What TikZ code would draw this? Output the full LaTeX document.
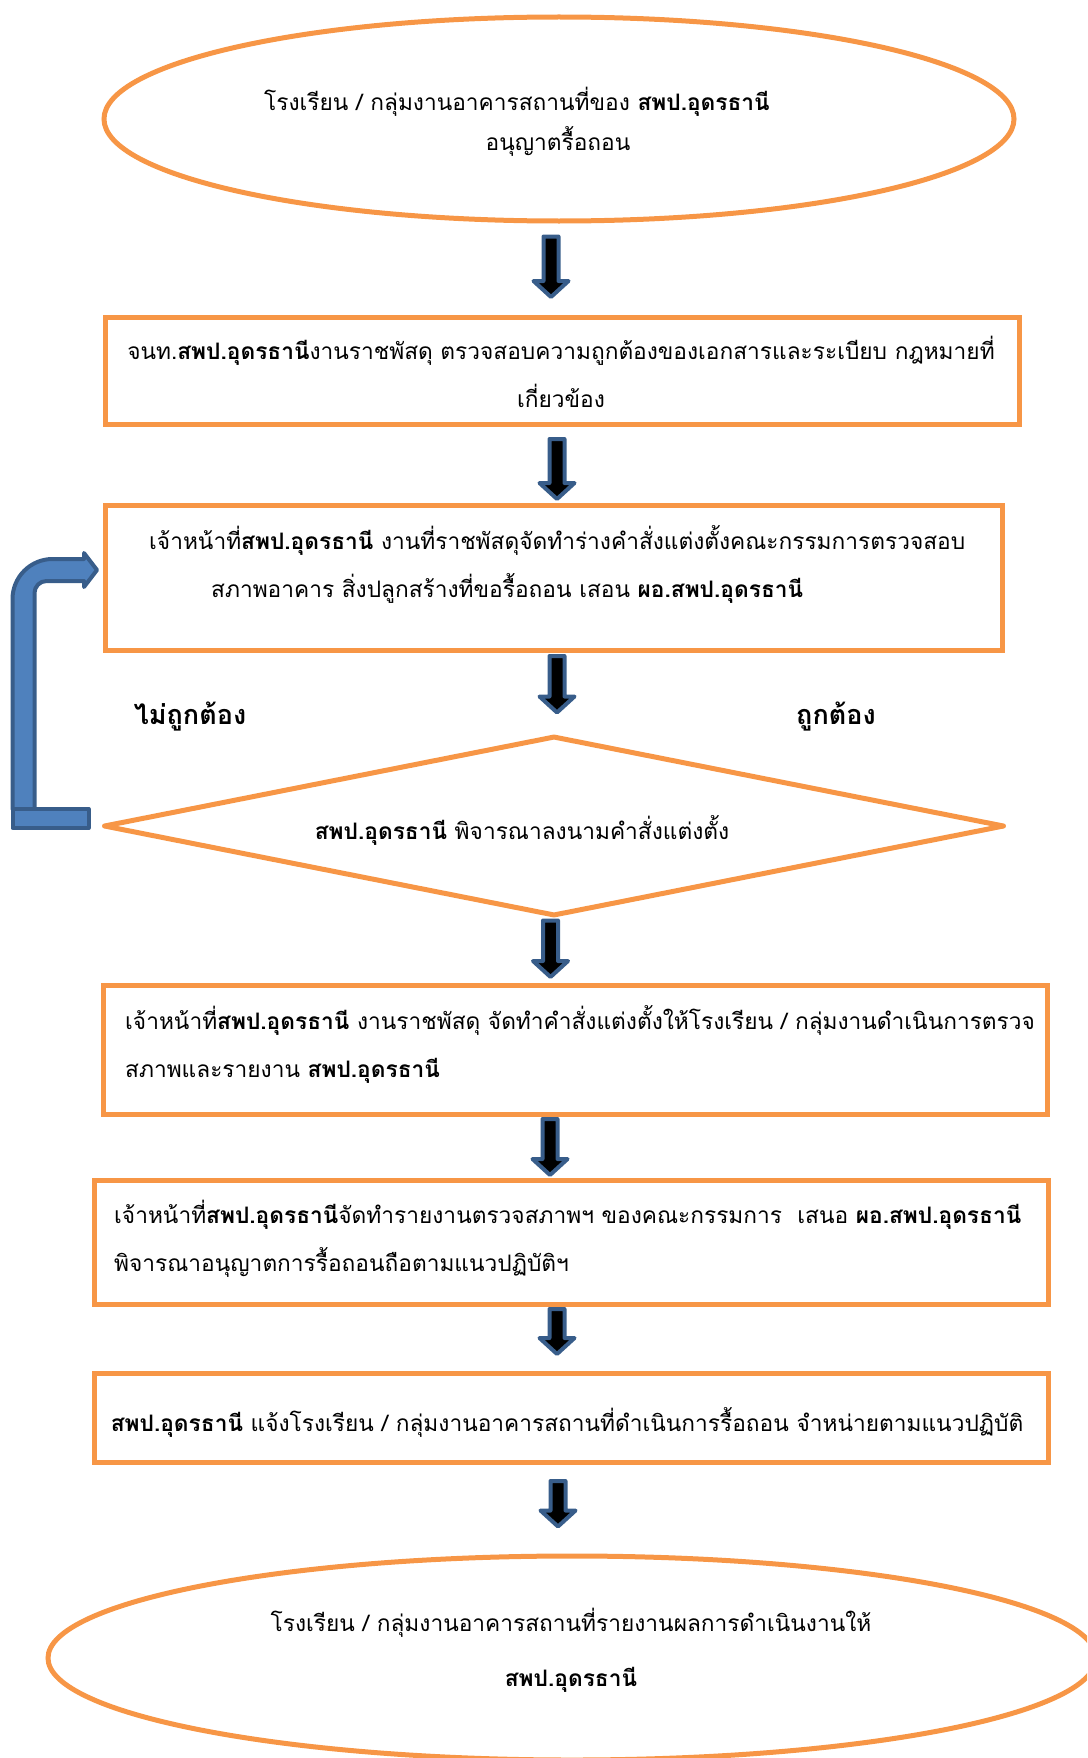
\documentclass[tikz,border=0pt]{standalone}
\usepackage{fontspec}
\setmainfont{Loma}[Script=Thai]
\usetikzlibrary{calc, shapes.geometric}

\definecolor{boxorange}{HTML}{F79646}
\definecolor{arrowblue}{HTML}{385D8A}
\definecolor{loopblue}{HTML}{4F81BD}

\newcommand{\sppud}{\textbf{สพป.อุดรธานี}}

\begin{document}
\begin{tikzpicture}[x=1pt, y=-1pt,
    stepbox/.style={draw=boxorange, line width=5pt, rectangle, inner sep=0pt},
    endoval/.style={draw=boxorange, line width=5pt, ellipse, inner sep=0pt},
    decide/.style={draw=boxorange, line width=5pt, diamond, inner sep=0pt, line join=round},
    txt/.style={font=\fontsize{22.7}{48}\selectfont, inner sep=0pt},
    answer/.style={font=\fontsize{27}{30}\selectfont\bfseries, inner sep=0pt},
    blockarrow/.style={draw=arrowblue, fill=black, line width=4pt, line join=round,
      to path={let \p1=(\tikztostart), \p2=(\tikztotarget) in
        ({\x1-7.5pt},\y1) -- ({\x1+7.5pt},\y1) -- ({\x1+7.5pt},{\y2+16pt})
        -- ({\x1+17.5pt},{\y2+16pt}) -- (\x1,\y2) -- ({\x1-17.5pt},{\y2+16pt})
        -- ({\x1-7.5pt},{\y2+16pt}) -- cycle}},
    backarrow/.style={draw=arrowblue, fill=loopblue, line width=4pt, line join=round}]
    \clip (0,0) rectangle (1087,1758);

    \node (e1) [endoval, minimum width=910pt, minimum height=204pt] at (559,119) {};
    \node (e1t) [txt, align=center, font=\fontsize{22.7}{40}\selectfont] at (558,122)
        {โรงเรียน / กลุ่มงานอาคารสถานที่ของ \sppud\hspace*{82pt}\\อนุญาตรื้อถอน};

    \node (b1) [stepbox, minimum width=914pt, minimum height=107pt] at (562.5,371) {};
    \node (b1t) [txt, align=center] at (561,372)
        {จนท.\sppud{}งานราชพัสดุ ตรวจสอบความถูกต้องของเอกสารและระเบียบ กฎหมายที่\\เกี่ยวข้อง};

    \node (b2) [stepbox, minimum width=897pt, minimum height=145pt] at (554,578) {};
    \node (b2t) [txt, align=left, anchor=west] at (149,564)
        {เจ้าหน้าที่\sppud{} งานที่ราชพัสดุจัดทำร่างคำสั่งแต่งตั้งคณะกรรมการตรวจสอบ\\
         \hspace*{62pt}สภาพอาคาร สิ่งปลูกสร้างที่ขอรื้อถอน เสอน \textbf{ผอ.สพป.อุดรธานี}};

    \node (no) [answer] at (190,717) {ไม่ถูกต้อง};
    \node (yes) [answer] at (836,717) {ถูกต้อง};

    \node (d) [decide, minimum width=901pt, minimum height=180pt] at (554,826) {};
    \node (dt) [txt] at (522,830) {\sppud{} พิจารณาลงนามคำสั่งแต่งตั้ง};

    \node (b3) [stepbox, minimum width=944pt, minimum height=129pt] at (575.5,1050) {};
    \node (b3t) [txt, align=left, anchor=west] at (125,1044)
        {เจ้าหน้าที่\sppud{} งานราชพัสดุ จัดทำคำสั่งแต่งตั้งให้โรงเรียน / กลุ่มงานดำเนินการตรวจ\\
         สภาพและรายงาน \sppud};

    \node (b4) [stepbox, minimum width=954pt, minimum height=124pt] at (571.5,1242.5) {};
    \node (b4t) [txt, align=left, anchor=west] at (114,1239)
        {เจ้าหน้าที่\sppud{}จัดทำรายงานตรวจสภาพฯ ของคณะกรรมการ~~เสนอ \textbf{ผอ.สพป.อุดรธานี}\\
         พิจารณาอนุญาตการรื้อถอนถือตามแนวปฏิบัติฯ};

    \node (b5) [stepbox, minimum width=954pt, minimum height=89pt] at (571.5,1418) {};
    \node (b5t) [txt] at (567,1422)
        {\sppud{} แจ้งโรงเรียน / กลุ่มงานอาคารสถานที่ดำเนินการรื้อถอน จำหน่ายตามแนวปฏิบัติ};

    \node (e2) [endoval, minimum width=1048pt, minimum height=204pt] at (572,1658) {};
    \node (e2t) [txt, align=center, font=\fontsize{22.7}{55}\selectfont] at (571,1650)
        {โรงเรียน / กลุ่มงานอาคารสถานที่รายงานผลการดำเนินงานให้\\\sppud};

    \draw[blockarrow] ([xshift=-8pt, yshift=-13pt]e1.south) to ([yshift=18pt]b1.north);
    \draw[blockarrow] ([xshift=-5.5pt, yshift=-12pt]b1.south) to ([yshift=4pt]b2.north);
    \draw[blockarrow] ([xshift=3pt, yshift=-3pt]b2.south) to ([yshift=21pt]d.north);
    \draw[blockarrow] ([xshift=-3.5pt, yshift=-2pt]d.south) to ([yshift=6pt]b3.north);
    \draw[blockarrow] ([xshift=-25.5pt, yshift=-2pt]b3.south) to ([yshift=3pt]b4.north);
    \draw[blockarrow] ([xshift=-14.5pt, yshift=-2pt]b4.south) to ([yshift=17pt]b5.north);
    \draw[blockarrow] ([xshift=-13.5pt, yshift=-16pt]b5.south) to ([yshift=27pt]e2.north);

    % back to the drafting step when the order is not approved
    \draw[backarrow] let \p1=(d.west), \p2=(b2.west) in
        ({\x1-88.5pt},{\y1+17pt}) -- ({\x1-88.5pt},{\y2-21pt})
        .. controls ({\x1-88.5pt},{\y2+1pt}) and ({\x1-70.5pt},{\y2+19pt}) .. ({\x1-48.5pt},{\y2+19pt})
        -- ({\x2-19pt},{\y2+19pt}) -- ({\x2-19pt},{\y2+25pt}) -- ({\x2-6pt},{\y2+8pt})
        -- ({\x2-19pt},{\y2-9pt}) -- ({\x2-19pt},{\y2-3pt}) -- ({\x1-54.5pt},{\y2-3pt})
        .. controls ({\x1-61.1pt},{\y2-3pt}) and ({\x1-66.5pt},{\y2-8.4pt}) .. ({\x1-66.5pt},{\y2-15pt})
        -- ({\x1-66.5pt},{\y1+17pt}) -- cycle;
    \draw[backarrow] ([xshift=-88.5pt, yshift=17pt]d.west) rectangle ([xshift=-12.5pt, yshift=-2pt]d.west);
\end{tikzpicture}
\end{document}
